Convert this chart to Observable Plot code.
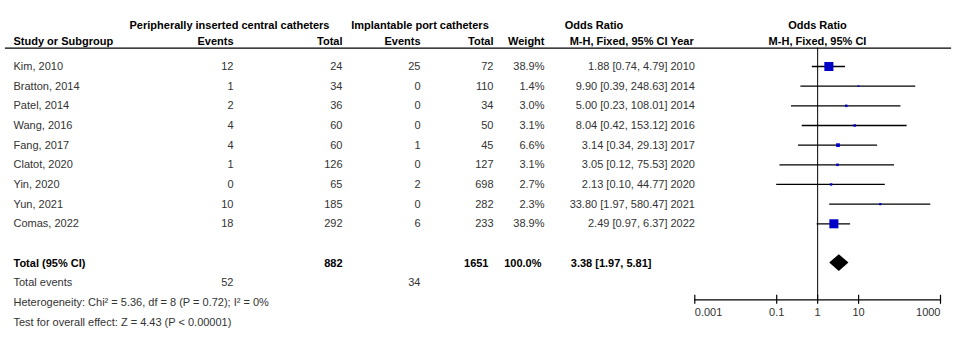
<!DOCTYPE html>
<html><head><meta charset="utf-8">
<script src="https://cdn.jsdelivr.net/npm/d3@7"></script>
<script src="https://cdn.jsdelivr.net/npm/@observablehq/plot@0.6"></script>
<style>body{margin:0;background:#fff}</style>
</head><body><div id="chart"></div>
<script>
const studies = ["Kim, 2010","Bratton, 2014","Patel, 2014","Wang, 2016","Fang, 2017","Clatot, 2020","Yin, 2020","Yun, 2021","Comas, 2022"];
const piccEvents = [12,1,2,4,4,1,0,10,18];
const piccTotal = [24,34,36,60,60,126,65,185,292];
const ipcEvents = [25,0,0,0,1,0,2,0,6];
const ipcTotal = [72,110,34,50,45,127,698,282,233];
const weights = [38.9,1.4,3.0,3.1,6.6,3.1,2.7,2.3,38.9];
const oddsRatio = [1.88,9.90,5.00,8.04,3.14,3.05,2.13,33.80,2.49];
const ciLow = [0.74,0.39,0.23,0.42,0.34,0.12,0.10,1.97,0.97];
const ciHigh = [4.79,248.63,108.01,153.12,29.13,75.53,44.77,580.47,6.37];
const years = [2010,2014,2014,2016,2017,2020,2020,2021,2022];
const totalLabel = "Total (95% CI)";
const totalPicc = 882, totalIpc = 1651, totalWeight = 100.0;
const totalOR = 3.38, totalLow = 1.97, totalHigh = 5.81;
const eventsPicc = 52, eventsIpc = 34;
const heterogeneity = "Heterogeneity: Chi² = 5.36, df = 8 (P = 0.72); I² = 0%";
const overallEffect = "Test for overall effect: Z = 4.43 (P < 0.00001)";
const axisTicks = [0.001, 0.1, 1, 10, 1000];
const tickLabels = ["0.001", "0.1", "1", "10", "1000"];

const fmtCI = (o, l, h) => `${o.toFixed(2)} [${l.toFixed(2)}, ${h.toFixed(2)}]`;
const rows = studies.map((s, i) => ({
  row: i, study: s, pe: String(piccEvents[i]), pt: String(piccTotal[i]), ie: String(ipcEvents[i]), it: String(ipcTotal[i]),
  w: weights[i], wl: weights[i].toFixed(1) + "%", or: oddsRatio[i], lo: ciLow[i], hi: ciHigh[i],
  ci: fmtCI(oddsRatio[i], ciLow[i], ciHigh[i]), year: String(years[i])
}));
const TOTAL_ROW = 10, EVENTS_ROW = 11, HET_ROW = 12, TEST_ROW = 13;
const totalRow = [{row: TOTAL_ROW, label: totalLabel, pt: String(totalPicc), it: String(totalIpc),
  wl: totalWeight.toFixed(1) + "%", ci: fmtCI(totalOR, totalLow, totalHigh)}];
const eventsRow = [{row: EVENTS_ROW, label: "Total events", pe: String(eventsPicc), ie: String(eventsIpc)}];
const footRows = [{row: HET_ROW, label: heterogeneity}, {row: TEST_ROW, label: overallEffect}];
const diamond = [
  {x: totalLow, y1: TOTAL_ROW, y2: TOTAL_ROW},
  {x: totalOR, y1: TOTAL_ROW - 0.43, y2: TOTAL_ROW + 0.43},
  {x: totalHigh, y1: TOTAL_ROW, y2: TOTAL_ROW}
];
const tickData = axisTicks.map((v, i) => ({v, label: tickLabels[i]}));

const BODY = "#333";
const col = (data, text, dx, textAnchor, extra = {}) =>
  Plot.text(data, {y: "row", text, frameAnchor: "left", lineAnchor: "middle", dx, textAnchor, fill: BODY, fontSize: 11, ...extra});
const head = (text, dx, dy, textAnchor, extra = {}) =>
  Plot.text([text], {text: d => d, frameAnchor: "top-left", lineAnchor: "middle", dx, dy, textAnchor, fill: "#000", fontSize: 11, fontWeight: "bold", ...extra});

const H1 = -22.6, H2 = -6.6;
const chart = Plot.plot({
  width: 956, height: 351,
  marginTop: 47.6, marginBottom: 51.7, marginLeft: 0, marginRight: 0,
  style: {fontFamily: "'Liberation Sans', Arial, sans-serif", fontSize: "11px", background: "#fff"},
  x: {type: "log", domain: [0.001, 1000], range: [694.3, 940], axis: null},
  y: {domain: [0, 13], range: [66, 321.6], axis: null},
  r: {type: "sqrt", domain: [0, 38.9], range: [0, 5.1]},
  marks: [
    // header
    head("Peripherally inserted central catheters", 229, H1, "middle"),
    head("Implantable port catheters", 419.5, H1, "middle"),
    head("Odds Ratio", 593.5, H1, "middle"),
    head("Odds Ratio", 817, H1, "middle"),
    head("Study or Subgroup", 13, H2, "start"),
    head("Events", 233, H2, "end"),
    head("Total", 342, H2, "end"),
    head("Events", 420, H2, "end"),
    head("Total", 493, H2, "end"),
    head("Weight", 544, H2, "end"),
    head("M-H, Fixed, 95% CI", 667, H2, "end"),
    head("Year", 670, H2, "start"),
    head("M-H, Fixed, 95% CI", 817, H2, "middle"),
    Plot.frame({anchor: "top", insetLeft: 5, insetRight: 6, strokeWidth: 1.2}),
    // study rows
    col(rows, "study", 13, "start"),
    col(rows, "pe", 233, "end"),
    col(rows, "pt", 342, "end"),
    col(rows, "ie", 420, "end"),
    col(rows, "it", 493, "end"),
    col(rows, "wl", 544, "end"),
    col(rows, "ci", 667, "end"),
    col(rows, "year", 670, "start"),
    // total row
    col(totalRow, "label", 13, "start", {fontWeight: "bold", fill: "#000"}),
    col(totalRow, "pt", 342, "end", {fontWeight: "bold", fill: "#000"}),
    col(totalRow, "it", 488, "end", {fontWeight: "bold", fill: "#000"}),
    col(totalRow, "wl", 541, "end", {fontWeight: "bold", fill: "#000"}),
    col(totalRow, "ci", 651, "end", {fontWeight: "bold", fill: "#000"}),
    // totals & footer
    col(eventsRow, "label", 13, "start"),
    col(eventsRow, "pe", 233, "end"),
    col(eventsRow, "ie", 420, "end"),
    col(footRows, "label", 13, "start"),
    // forest
    Plot.ruleX([1], {stroke: "#000", strokeWidth: 1}),
    Plot.ruleY(rows, {y: "row", x1: "lo", x2: "hi", stroke: "#000", strokeWidth: 1.3}),
    Plot.dot(rows, {x: "or", y: "row", r: "w", symbol: "square", fill: "#0000c8", stroke: null}),
    Plot.areaY(diamond, {x: "x", y1: "y1", y2: "y2", fill: "#000", curve: "linear"}),
    // axis
    Plot.frame({anchor: "bottom", insetLeft: 694.3, insetRight: 16, strokeWidth: 1.2}),
    Plot.axisX({anchor: "bottom", ticks: axisTicks, tickSize: 9, dy: -4.5, tickFormat: () => "", strokeWidth: 1.2}),
    Plot.text(tickData.slice(0, 1), {x: "v", text: "label", frameAnchor: "bottom", lineAnchor: "middle", dy: 12.7, textAnchor: "start", fill: BODY, fontSize: 11}),
    Plot.text(tickData.slice(1, -1), {x: "v", text: "label", frameAnchor: "bottom", lineAnchor: "middle", dy: 12.7, textAnchor: "middle", fill: BODY, fontSize: 11}),
    Plot.text(tickData.slice(-1), {x: "v", text: "label", frameAnchor: "bottom", lineAnchor: "middle", dy: 12.7, textAnchor: "end", fill: BODY, fontSize: 11})
  ]
});
document.getElementById("chart").appendChild(chart);
</script>
</body></html>
